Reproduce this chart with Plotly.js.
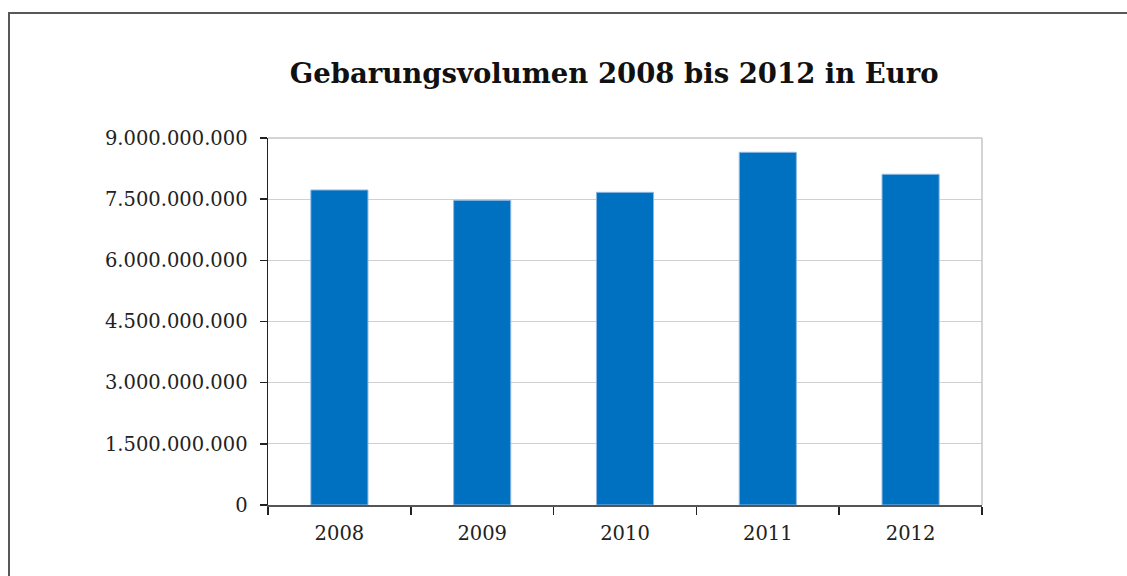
<!DOCTYPE html>
<html>
<head>
<meta charset="utf-8">
<script src="https://cdn.plot.ly/plotly-3.0.1.min.js"></script>
<style>
  html, body { margin: 0; padding: 0; background: #fff; overflow: hidden; }
  #chart { width: 1127px; height: 576px; position: absolute; left: 0; top: 0; }
  #frame { position: absolute; left: 8px; top: 12px; width: 1200px; height: 700px;
           border: 2px solid #585858; pointer-events: none; box-sizing: border-box; }
</style>
</head>
<body>
<div id="chart"></div>
<div id="frame"></div>
<script>
const years = ['2008', '2009', '2010', '2011', '2012'];
const volumes = [7725000000, 7472000000, 7668000000, 8649000000, 8110000000];
const yTicks = [0, 1500000000, 3000000000, 4500000000, 6000000000, 7500000000, 9000000000];
const titleText = 'Gebarungsvolumen 2008 bis 2012 in Euro';

const trace = {
  type: 'bar',
  x: years,
  y: volumes,
  marker: { color: '#0070C0', line: { color: '#8DB9E2', width: 1 } },
  hoverinfo: 'x+y'
};

const layout = {
  width: 1127, height: 576,
  margin: { l: 268, r: 145, t: 138, b: 71, pad: 0 },
  paper_bgcolor: '#ffffff', plot_bgcolor: '#ffffff',
  separators: ',.',
  showlegend: false,
  bargap: 0.6,
  font: { family: 'DejaVu Serif, serif', color: '#222' },
  title: {
    text: '<b>' + titleText + '</b>',
    font: { family: 'DejaVu Serif, serif', size: 27.5, color: '#111' },
    x: 0.545, xanchor: 'center', xref: 'container',
    y: 0.872, yanchor: 'middle', yref: 'container'
  },
  xaxis: {
    type: 'category',
    showline: true, linecolor: '#555', linewidth: 1.5,
    ticks: 'outside', tickson: 'boundaries', ticklen: 8, tickcolor: '#222', tickwidth: 1.5,
    tickfont: { size: 19.5, color: '#222' },
    ticklabelstandoff: 10,
    showgrid: false, mirror: false, fixedrange: true
  },
  yaxis: {
    range: [0, 9000000000],
    tickvals: yTicks,
    tickformat: ',d',
    showline: true, linecolor: '#222', linewidth: 1.5,
    ticks: 'outside', ticklen: 7, tickcolor: '#222', tickwidth: 1.5,
    tickfont: { size: 19.5, color: '#222' },
    ticklabelstandoff: 8,
    showgrid: true, gridcolor: '#d0d0d0', gridwidth: 1,
    zeroline: false, fixedrange: true
  },
  shapes: [
    { type: 'line', xref: 'paper', yref: 'paper', x0: 0, x1: 1, y0: 1, y1: 1, line: { color: '#c6c6c6', width: 1.5 } },
    { type: 'line', xref: 'paper', yref: 'paper', x0: 1, x1: 1, y0: 0, y1: 1, line: { color: '#c6c6c6', width: 1.5 } }
  ]
};

Plotly.newPlot('chart', [trace], layout, { displayModeBar: false, staticPlot: true });
</script>
</body>
</html>
